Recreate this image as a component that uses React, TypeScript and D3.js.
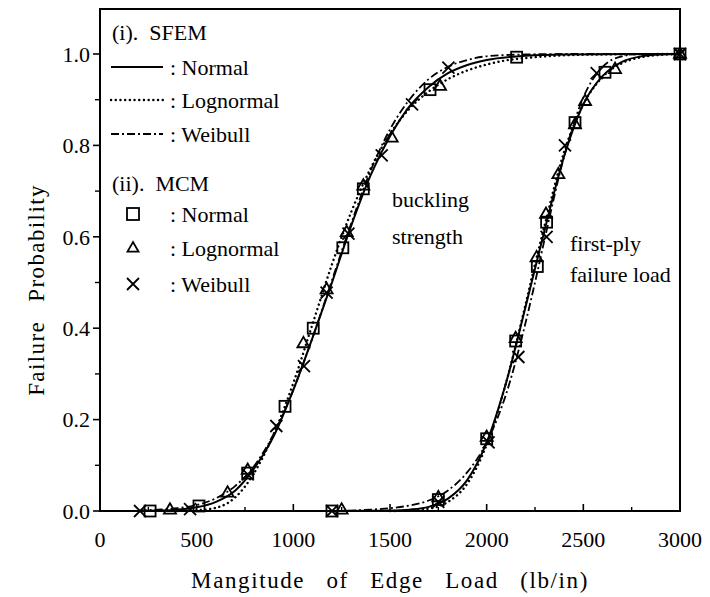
import React from "react";
import * as d3 from "d3";

// ---------- data ----------
const xMajorTicks = [0, 500, 1000, 1500, 2000, 2500, 3000];
const xMinorTicks = [250, 750, 1250, 1750, 2250, 2750];
const yMajorTicks = [0, 0.2, 0.4, 0.6, 0.8, 1.0];
const yMinorTicks = [0.1, 0.3, 0.5, 0.7, 0.9];

// SFEM curves: buckling strength
const bucklingNormalX = [200, 300, 400, 500, 600, 700, 800, 900, 1000, 1100, 1200, 1300, 1400, 1500, 1600, 1700, 1800, 1900, 2000, 2200, 2400, 3000];
const bucklingNormalP = [0.0, 0.001, 0.003, 0.008, 0.02, 0.045, 0.095, 0.165, 0.265, 0.38, 0.5, 0.625, 0.735, 0.82, 0.885, 0.928, 0.958, 0.976, 0.987, 0.996, 0.999, 1.0];
const bucklingLognormalX = [400, 500, 600, 700, 800, 900, 1000, 1100, 1200, 1300, 1400, 1500, 1600, 1700, 1800, 1900, 2000, 2100, 2200, 2400, 2600, 3000];
const bucklingLognormalP = [0.0, 0.0015, 0.007, 0.03, 0.085, 0.17, 0.28, 0.41, 0.54, 0.655, 0.75, 0.825, 0.88, 0.918, 0.945, 0.964, 0.977, 0.986, 0.991, 0.997, 0.999, 1.0];
const bucklingWeibullX = [200, 300, 400, 500, 600, 700, 800, 900, 1000, 1100, 1200, 1300, 1400, 1500, 1600, 1700, 1800, 1900, 2000, 2200, 2400, 3000];
const bucklingWeibullP = [0.001, 0.003, 0.006, 0.013, 0.028, 0.055, 0.1, 0.17, 0.265, 0.38, 0.505, 0.63, 0.745, 0.835, 0.9, 0.945, 0.972, 0.987, 0.995, 0.999, 1.0, 1.0];

// SFEM curves: first-ply failure load
const plyNormalX = [1200, 1400, 1500, 1600, 1700, 1800, 1900, 2000, 2100, 2200, 2250, 2300, 2400, 2500, 2600, 2700, 2800, 2900, 3000];
const plyNormalP = [0.0, 0.0005, 0.001, 0.003, 0.009, 0.027, 0.068, 0.15, 0.28, 0.445, 0.53, 0.615, 0.775, 0.89, 0.952, 0.983, 0.995, 0.999, 1.0];
const plyLognormalX = [1500, 1600, 1700, 1800, 1900, 2000, 2100, 2200, 2250, 2300, 2400, 2500, 2600, 2700, 2800, 2900, 3000];
const plyLognormalP = [0.0, 0.001, 0.005, 0.02, 0.06, 0.145, 0.28, 0.45, 0.54, 0.625, 0.785, 0.89, 0.95, 0.98, 0.993, 0.998, 1.0];
const plyWeibullX = [1200, 1300, 1400, 1500, 1600, 1700, 1800, 1900, 2000, 2100, 2200, 2250, 2300, 2400, 2500, 2600, 2700, 2800, 3000];
const plyWeibullP = [0.0, 0.001, 0.003, 0.006, 0.012, 0.023, 0.045, 0.085, 0.15, 0.255, 0.41, 0.5, 0.595, 0.775, 0.905, 0.972, 0.995, 1.0, 1.0];

// MCM markers (buckling strength, then first-ply failure load)
const mcmNormalX = [259, 512, 764, 957, 1103, 1256, 1362, 1707, 2155, 3000, 1200, 1750, 2000, 2150, 2262, 2310, 2457, 2612];
const mcmNormalP = [0.0, 0.011, 0.083, 0.229, 0.4, 0.576, 0.705, 0.922, 0.993, 1.0, 0.0, 0.025, 0.158, 0.372, 0.535, 0.632, 0.85, 0.96];
const mcmLognormalX = [362, 660, 764, 1052, 1172, 1276, 1362, 1509, 1759, 3000, 1250, 1750, 2000, 2150, 2258, 2307, 2371, 2457, 2509, 2664];
const mcmLognormalP = [0.003, 0.04, 0.09, 0.367, 0.485, 0.61, 0.712, 0.817, 0.93, 1.0, 0.003, 0.03, 0.162, 0.378, 0.555, 0.65, 0.737, 0.846, 0.897, 0.967];
const mcmWeibullX = [207, 466, 764, 912, 1055, 1172, 1285, 1457, 1614, 1802, 3000, 1200, 1750, 2010, 2164, 2310, 2405, 2569];
const mcmWeibullP = [0.0, 0.004, 0.08, 0.186, 0.317, 0.478, 0.607, 0.778, 0.89, 0.97, 1.0, 0.0, 0.02, 0.15, 0.337, 0.6, 0.8, 0.958];

const legendLineLabels = ["Normal", "Lognormal", "Weibull"];
const legendMarkerLabels = ["Normal", "Lognormal", "Weibull"];

// ---------- layout ----------
const W = 710;
const H = 597;
const left = 100;
const right = 680;
const top = 9;
const bottom = 511;

const FONT = "'Liberation Serif', 'Times New Roman', serif";

const x = d3.scaleLinear().domain([0, 3000]).range([left, right]);
const y = d3.scaleLinear().domain([0, 1]).range([bottom, 54]);

const line = d3
  .line<[number, number]>()
  .x((d) => x(d[0]))
  .y((d) => y(d[1]))
  .curve(d3.curveMonotoneX);

const zip = (a: number[], b: number[]) => a.map((v, i) => [v, b[i]] as [number, number]);

const SOLID = { strokeDasharray: undefined as string | undefined, strokeWidth: 2, cap: "butt" };
const DOTTED = { strokeDasharray: "0.1 4.6", strokeWidth: 2.4, cap: "round" };
const DASHDOT = { strokeDasharray: "8 3 2 3", strokeWidth: 1.8, cap: "butt" };

function Square({ cx, cy, s = 11 }: { cx: number; cy: number; s?: number }) {
  return <rect x={cx - s / 2} y={cy - s / 2} width={s} height={s} fill="none" stroke="#000" strokeWidth={1.8} />;
}
function Tri({ cx, cy, s = 12 }: { cx: number; cy: number; s?: number }) {
  const h = s * 0.866;
  const pts = `${cx},${cy - h * 0.62} ${cx - s / 2},${cy + h * 0.38} ${cx + s / 2},${cy + h * 0.38}`;
  return <polygon points={pts} fill="none" stroke="#000" strokeWidth={1.8} />;
}
function Cross({ cx, cy, s = 12 }: { cx: number; cy: number; s?: number }) {
  const r = s / 2;
  return (
    <path
      d={`M${cx - r},${cy - r}L${cx + r},${cy + r}M${cx + r},${cy - r}L${cx - r},${cy + r}`}
      stroke="#000"
      strokeWidth={1.8}
      fill="none"
    />
  );
}

export default function App() {
  const curves = [
    { d: zip(bucklingNormalX, bucklingNormalP), st: SOLID },
    { d: zip(bucklingLognormalX, bucklingLognormalP), st: DOTTED },
    { d: zip(bucklingWeibullX, bucklingWeibullP), st: DASHDOT },
    { d: zip(plyNormalX, plyNormalP), st: SOLID },
    { d: zip(plyLognormalX, plyLognormalP), st: DOTTED },
    { d: zip(plyWeibullX, plyWeibullP), st: DASHDOT },
  ];
  const legendStyles = [SOLID, DOTTED, DASHDOT];
  const legendLineY = [67, 100, 134];
  const legendMarkY = [214, 248, 284];

  return (
    <svg width={W} height={H} style={{ position: "absolute", left: 0, top: 0, background: "#fff" }} fontFamily={FONT}>
      <rect x={0} y={0} width={W} height={H} fill="#fff" />
      {/* frame */}
      <rect x={left} y={top} width={right - left} height={bottom - top} fill="none" stroke="#000" strokeWidth={2} />
      {/* y ticks (outward) */}
      {yMajorTicks.map((t) => (
        <g key={"ym" + t}>
          <line x1={left - 7} x2={left} y1={y(t)} y2={y(t)} stroke="#000" strokeWidth={1.6} />
          <text x={left - 10} y={y(t)} dy="0.35em" textAnchor="end" fontSize={22}>
            {t.toFixed(1)}
          </text>
        </g>
      ))}
      {yMinorTicks.map((t) => (
        <line key={"yn" + t} x1={left - 5} x2={left} y1={y(t)} y2={y(t)} stroke="#000" strokeWidth={1.4} />
      ))}
      {/* x ticks (inward) */}
      {xMajorTicks.map((t) => (
        <g key={"xm" + t}>
          <line x1={x(t)} x2={x(t)} y1={bottom} y2={bottom - 7} stroke="#000" strokeWidth={1.6} />
          <text x={x(t)} y={bottom + 36} textAnchor="middle" fontSize={22}>
            {t}
          </text>
        </g>
      ))}
      {xMinorTicks.map((t) => (
        <line key={"xn" + t} x1={x(t)} x2={x(t)} y1={bottom} y2={bottom - 4} stroke="#000" strokeWidth={1.4} />
      ))}

      {/* curves */}
      {curves.map((c, i) => (
        <path
          key={"c" + i}
          d={line(c.d) || ""}
          fill="none"
          stroke="#000"
          strokeWidth={c.st.strokeWidth}
          strokeDasharray={c.st.strokeDasharray}
          strokeLinecap={c.st.cap as any}
        />
      ))}

      {/* markers */}
      {mcmNormalX.map((v, i) => (
        <Square key={"sq" + i} cx={x(v)} cy={y(mcmNormalP[i])} />
      ))}
      {mcmLognormalX.map((v, i) => (
        <Tri key={"tr" + i} cx={x(v)} cy={y(mcmLognormalP[i])} />
      ))}
      {mcmWeibullX.map((v, i) => (
        <Cross key={"cr" + i} cx={x(v)} cy={y(mcmWeibullP[i])} />
      ))}

      {/* legend */}
      <text x={112} y={40} fontSize={22} style={{ whiteSpace: "pre" }}>
        {"(i).  SFEM"}
      </text>
      {legendLineLabels.map((lab, i) => (
        <g key={"ll" + i}>
          <line
            x1={111}
            x2={163}
            y1={legendLineY[i]}
            y2={legendLineY[i]}
            stroke="#000"
            strokeWidth={legendStyles[i].strokeWidth}
            strokeDasharray={legendStyles[i].strokeDasharray}
            strokeLinecap={legendStyles[i].cap as any}
          />
          <text x={170} y={legendLineY[i] + 8} fontSize={22} style={{ whiteSpace: "pre" }}>
            {": " + lab}
          </text>
        </g>
      ))}
      <text x={112} y={191} fontSize={22} style={{ whiteSpace: "pre" }}>
        {"(ii).  MCM"}
      </text>
      {legendMarkerLabels.map((lab, i) => (
        <g key={"lm" + i}>
          {i === 0 && <Square cx={133} cy={legendMarkY[i]} s={12} />}
          {i === 1 && <Tri cx={133} cy={legendMarkY[i]} s={11} />}
          {i === 2 && <Cross cx={133} cy={legendMarkY[i]} s={12} />}
          <text x={170} y={legendMarkY[i] + 8} fontSize={22} style={{ whiteSpace: "pre" }}>
            {": " + lab}
          </text>
        </g>
      ))}

      {/* annotations */}
      <text x={392} y={207} fontSize={22}>buckling</text>
      <text x={392} y={244} fontSize={22}>strength</text>
      <text x={570} y={251} fontSize={22}>first-ply</text>
      <text x={570} y={282} fontSize={22}>failure load</text>

      {/* axis titles */}
      <text
        x={(left + right) / 2}
        y={588}
        textAnchor="middle"
        fontSize={23}
        letterSpacing={1.6}
        wordSpacing={14}
      >
        Mangitude of Edge Load (lb/in)
      </text>
      <text
        transform={`translate(44, 290) rotate(-90)`}
        textAnchor="middle"
        fontSize={23}
        letterSpacing={1.4}
        wordSpacing={12}
      >
        Failure Probability
      </text>
    </svg>
  );
}
